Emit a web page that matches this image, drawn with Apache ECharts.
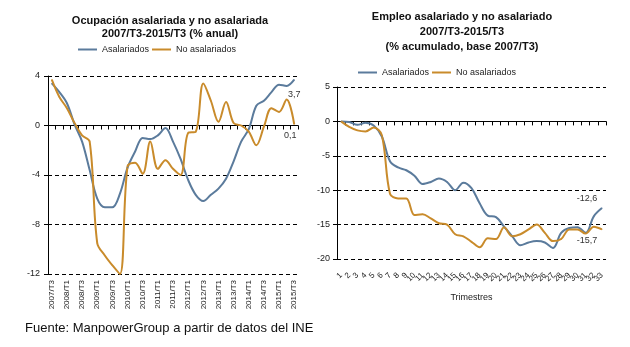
<!DOCTYPE html>
<html><head><meta charset="utf-8">
<script src="https://cdn.jsdelivr.net/npm/echarts@6/dist/echarts.min.js"></script>
<style>html,body{margin:0;padding:0;background:#fff}#c{width:630px;height:347px}</style>
</head><body><div id="c"></div>
<script>
const quarters = ['2007/T3','2007/T4','2008/T1','2008/T2','2008/T3','2008/T4','2009/T1','2009/T2','2009/T3','2009/T4',
  '2010/T1','2010/T2','2010/T3','2010/T4','2011/T1','2011/T2','2011/T3','2011/T4','2012/T1','2012/T2','2012/T3','2012/T4',
  '2013/T1','2013/T2','2013/T3','2013/T4','2014/T1','2014/T2','2014/T3','2014/T4','2015/T1','2015/T2','2015/T3'];
const annualAsal = [3.4, 2.7, 1.8, 0.1, -1.3, -3.6, -5.9, -6.6, -6.6, -5.5, -3.4, -2.1, -1.0, -1.1, -0.8, -0.2, -1.3, -2.7, -4.4, -5.6, -6.1, -5.6, -5.1, -4.3, -2.9, -1.3, -0.3, 1.6, 2.0, 2.7, 3.3, 3.2, 3.7];
const annualNoAsal = [3.7, 2.3, 1.4, 0.2, -0.8, -1.3, -9.5, -10.5, -11.3, -12.0, -3.3, -3.0, -3.9, -1.3, -3.5, -2.8, -3.5, -4.0, -0.6, -0.5, 3.4, 2.0, 0.3, 1.9, 0.2, 0.0, -0.5, -1.6, -0.1, 1.4, 1.1, 2.1, 0.1];
const trimestres = ['1','2','3','4','5','6','7','8','9','10','11','12','13','14','15','16','17','18','19','20','21','22','23','24','25','26','27','28','29','30','31','32','33'];
const accAsal = [0, -0.1, -0.5, -0.2, -0.6, -2.2, -5.8, -6.7, -7.1, -7.9, -9.1, -8.8, -8.3, -8.8, -10.0, -8.9, -9.7, -11.9, -13.7, -13.9, -15.3, -16.7, -18.0, -17.6, -17.4, -17.6, -18.4, -16.2, -15.5, -15.4, -16.2, -13.8, -12.6];
const accNoAsal = [0, -0.8, -1.3, -1.45, -0.9, -2.0, -10.5, -11.2, -11.2, -13.6, -13.5, -14.1, -14.8, -15.0, -16.4, -16.7, -17.5, -18.3, -17.0, -17.1, -15.4, -16.7, -16.4, -15.7, -15.0, -16.2, -17.4, -17.1, -15.7, -15.7, -16.3, -15.3, -15.7];
const seriesNames = ['Asalariados', 'No asalariados'];

const F = "'Liberation Sans', Arial, sans-serif";
const BLUE = '#5b7b9c', ORANGE = '#c98b2b';
const dash = {type: [4, 3], color: '#000', width: 1};

function lastLabel(arr, cfg) {
  return arr.map((v, i) => i === arr.length - 1 ? {
    value: v,
    label: Object.assign({show: true, fontSize: 9, fontFamily: F, color: '#333',
      formatter: p => String(p.value).replace('.', ',')}, cfg)
  } : v);
}
function lineSeries(name, data, color, xi, yi, lab) {
  return {type: 'line', name, data: lastLabel(data, lab), xAxisIndex: xi, yAxisIndex: yi,
    smooth: 0.35, symbol: 'circle', symbolSize: 1, showSymbol: true, showAllSymbol: true,
    itemStyle: {color}, lineStyle: {color, width: 2}, label: {show: false},
    emphasis: {disabled: true}, z: 3};
}
function labelAxis(grid, data, lbl, extra) {
  return Object.assign({gridIndex: grid, type: 'category', data, position: 'bottom',
    axisLine: {show: false, onZero: false}, axisTick: {show: false},
    axisLabel: Object.assign({color: '#222', fontFamily: F}, lbl), splitLine: {show: false}}, extra || {});
}
function zeroAxis(grid, data) {
  return {gridIndex: grid, type: 'category', data, position: 'bottom',
    axisLine: {show: true, onZero: true, lineStyle: {color: '#000', width: 1}},
    axisTick: {show: true, length: 4, interval: 0, lineStyle: {color: '#000'}},
    axisLabel: {show: false}, splitLine: {show: false}};
}
function valAxis(grid, min, max, interval, margin) {
  return {gridIndex: grid, type: 'value', min, max, interval,
    axisLine: {show: true, lineStyle: {color: '#000', width: 1}},
    axisTick: {show: true, length: 4, lineStyle: {color: '#000'}},
    axisLabel: {fontSize: 9, margin, color: '#222', fontFamily: F},
    splitLine: {show: true, lineStyle: dash}};
}
const legendBase = {padding: 0, itemWidth: 19, itemHeight: 2, itemGap: 3, icon: 'rect',
  selectedMode: false, textStyle: {fontSize: 9, color: '#222', fontFamily: F}, data: seriesNames};

const chart = echarts.init(document.getElementById('c'), null, {renderer: 'canvas'});
chart.setOption({
  animation: false,
  backgroundColor: '#fff',
  textStyle: {fontFamily: F},
  title: [
    {text: 'Ocupación asalariada y no asalariada\n2007/T3-2015/T3 (% anual)', left: 170, top: 14,
      textAlign: 'center', padding: 0,
      textStyle: {fontSize: 11, fontWeight: 'bold', lineHeight: 13, color: '#111', fontFamily: F}},
    {text: 'Empleo asalariado y no asalariado\n2007/T3-2015/T3\n(% acumulado, base 2007/T3)', left: 462, top: 9,
      textAlign: 'center', padding: 0,
      textStyle: {fontSize: 11, fontWeight: 'bold', lineHeight: 15, color: '#111', fontFamily: F}}
  ],
  legend: [
    Object.assign({left: 78, top: 45}, legendBase),
    Object.assign({left: 358, top: 68}, legendBase)
  ],
  grid: [
    {left: 48, right: 332, top: 76, bottom: 73},
    {left: 337, right: 24, top: 87, bottom: 88}
  ],
  xAxis: [
    labelAxis(0, quarters, {interval: 1, rotate: 90, fontSize: 8, margin: 6}),
    zeroAxis(0, quarters),
    labelAxis(1, trimestres, {interval: 0, rotate: 45, fontSize: 8, margin: 15},
      {name: 'Trimestres', nameLocation: 'middle', nameGap: 34,
       nameTextStyle: {fontSize: 9, color: '#222', fontFamily: F}}),
    zeroAxis(1, trimestres)
  ],
  yAxis: [
    valAxis(0, -12, 4, 4, 8),
    valAxis(1, -20, 5, 5, 7)
  ],
  series: [
    lineSeries(seriesNames[0], annualAsal, BLUE, 0, 0, {position: 'bottom', distance: 10}),
    lineSeries(seriesNames[1], annualNoAsal, ORANGE, 0, 0, {position: 'bottom', distance: 6, offset: [-4, 0]}),
    lineSeries(seriesNames[0], accAsal, BLUE, 2, 1, {position: 'top', distance: 5, offset: [-15, 0]}),
    lineSeries(seriesNames[1], accNoAsal, ORANGE, 2, 1, {position: 'bottom', distance: 6, offset: [-15, 0]})
  ],
  graphic: [
    {type: 'text', left: 25, top: 322,
      style: {text: 'Fuente: ManpowerGroup a partir de datos del INE', fontSize: 13, fill: '#111', fontFamily: F}}
  ]
});
</script></body></html>
